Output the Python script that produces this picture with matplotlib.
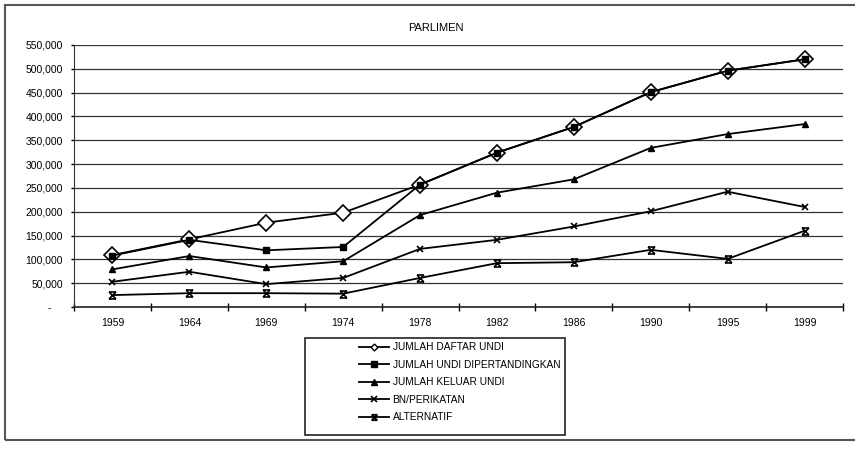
import matplotlib
matplotlib.use("Agg")
import matplotlib.pyplot as plt
from matplotlib.lines import Line2D
from matplotlib.patches import Rectangle
from matplotlib.path import Path
from matplotlib.ticker import FuncFormatter
import numpy as np

plt.rcParams['font.family'] = ['Liberation Sans', 'DejaVu Sans']

years = ['1959', '1964', '1969', '1974', '1978', '1982', '1986', '1990', '1995', '1999']
daftar_undi = [109000, 142000, 177000, 198000, 257000, 324000, 378000, 451000, 496000, 520000]
undi_dipertandingkan = [108000, 141000, 119000, 126000, 257000, 324000, 378000, 451000, 496000, 520000]
keluar_undi = [79000, 107000, 83000, 96000, 193000, 240000, 268000, 334000, 363000, 384000]
bn_perikatan = [53000, 74000, 48000, 61000, 122000, 141000, 169000, 201000, 242000, 210000]
alternatif = [25000, 29000, 29000, 28000, 61000, 92000, 94000, 120000, 101000, 160000]

labels = ['JUMLAH DAFTAR UNDI', 'JUMLAH UNDI DIPERTANDINGKAN', 'JUMLAH KELUAR UNDI',
          'BN/PERIKATAN', 'ALTERNATIF']

# hourglass-like marker used for the last series
hourglass = Path([(-1, -1), (1, 1), (-1, 1), (1, -1), (-1, 1), (1, 1), (-1, -1), (1, -1)],
                 [Path.MOVETO, Path.LINETO, Path.MOVETO, Path.LINETO,
                  Path.MOVETO, Path.LINETO, Path.MOVETO, Path.LINETO])

W, H = 855, 451
fig = plt.figure(figsize=(W / 100, H / 100), dpi=100)
ax = fig.add_axes([74 / W, 1 - 307 / H, (843 - 74) / W, (307 - 45) / H])

x = np.arange(len(years))
lw = 1.3
ax.plot(x, daftar_undi, color='black', lw=lw, marker='D', ms=8, mfc='white', mec='black', mew=1.2, zorder=3)
ax.plot(x, undi_dipertandingkan, color='black', lw=lw, marker='s', ms=4.5, zorder=4)
ax.plot(x, keluar_undi, color='black', lw=lw, marker='^', ms=5, zorder=3)
ax.plot(x, bn_perikatan, color='black', lw=lw, marker='x', ms=5, mew=1.2, zorder=3)
ax.plot(x, alternatif, color='black', lw=lw, marker=hourglass, ms=5, mew=1.2, zorder=3)

ax.set_xlim(-0.5, len(years) - 0.5)
ax.set_ylim(0, 550000)
ax.set_yticks(np.arange(0, 550001, 50000))


def yfmt(v, pos):
    if v == 0:
        return '-    '
    return '{:,.0f}'.format(v)


ax.yaxis.set_major_formatter(FuncFormatter(yfmt))
ax.set_xticks(x)
ax.set_xticklabels(years)
ax.set_xticks(np.arange(-0.5, len(years)), minor=True)
ax.tick_params(axis='x', which='major', length=0, pad=8, labelsize=7.5)
ax.tick_params(axis='x', which='minor', length=6, direction='inout', width=1)
ax.tick_params(axis='y', length=2, width=1, pad=6, labelsize=7.5)
ax.grid(axis='y', color='#333333', lw=0.9)
ax.set_axisbelow(True)
for s in ['top', 'right']:
    ax.spines[s].set_visible(False)
ax.spines['left'].set_color('#333333')
ax.spines['bottom'].set_color('#222222')
ax.spines['bottom'].set_linewidth(1.2)

fig.text(436 / W, 1 - 28 / H, 'PARLIMEN', ha='center', va='center', fontsize=8)

handles = [
    Line2D([], [], color='black', lw=lw, marker='D', ms=3.5, mfc='white', mec='black'),
    Line2D([], [], color='black', lw=lw, marker='s', ms=4),
    Line2D([], [], color='black', lw=lw, marker='^', ms=4.5),
    Line2D([], [], color='black', lw=lw, marker='x', ms=4, mew=1.2),
    Line2D([], [], color='black', lw=lw, marker=hourglass, ms=4, mew=1.2),
]
fig.legend(handles, labels, loc='upper left', bbox_to_anchor=(355 / W, 1 - 338 / H),
           frameon=False, fontsize=7.3, handlelength=3, labelspacing=0.75,
           handletextpad=0.3, borderaxespad=0)

fig.patches.append(Rectangle((305 / W, 1 - 435 / H), 260 / W, 97 / H,
                             transform=fig.transFigure, fill=False, ec='#222222', lw=1.2))
fig.patches.append(Rectangle((5 / W, 1 - 440 / H), 1.0, 435 / H,
                             transform=fig.transFigure, fill=False, ec='#555555', lw=1.5))

fig.savefig('out.png', dpi=100)
